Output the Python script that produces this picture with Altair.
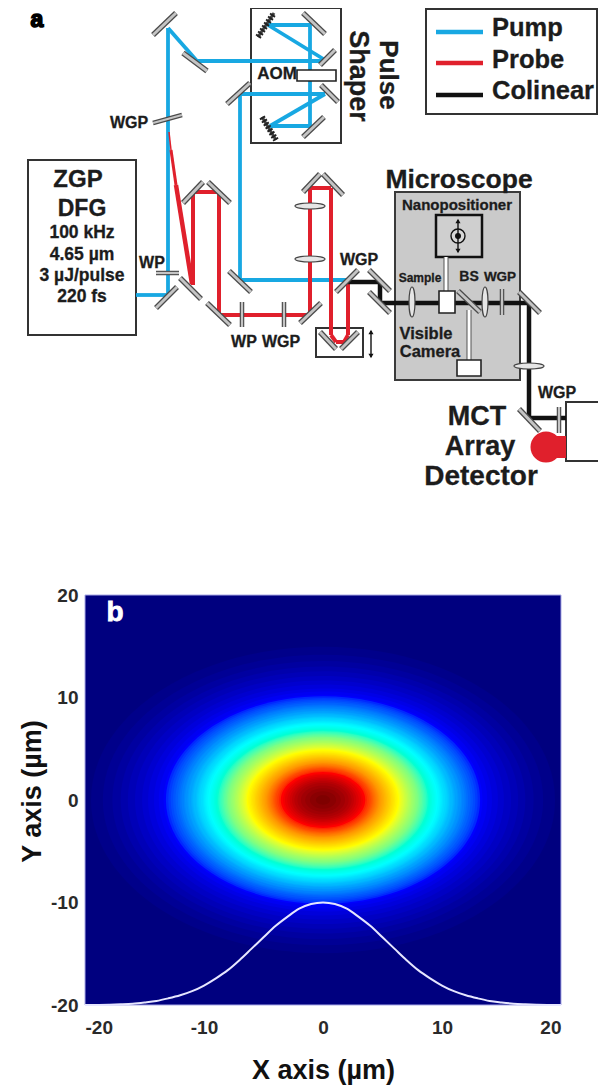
import altair as alt
import pandas as pd

FONT = "Liberation Sans"
BLUE = "#18a8e2"
RED = "#e0202c"
BLACK = "#111111"
DARK = "#1c1c1c"

# ---------- panel b values ----------
level_value = [round(i / 100, 2) for i in range(1, 101)]
level_semi_x_um = [
    19.5, 18.5, 17.7, 17.0, 16.4, 15.8, 15.2, 14.7, 14.2, 13.8,
    13.4, 13.2, 13.0, 12.8, 12.6, 12.4, 12.2, 12.05, 11.9, 11.7,
    11.6, 11.4, 11.3, 11.1, 11.0, 10.9, 10.7, 10.6, 10.5, 10.4,
    10.25, 10.1, 10.0, 9.9, 9.8, 9.65, 9.55, 9.42, 9.3, 9.17,
    9.05, 8.92, 8.8, 8.68, 8.56, 8.44, 8.33, 8.21, 8.09, 7.98,
    7.86, 7.75, 7.63, 7.52, 7.41, 7.29, 7.18, 7.07, 6.96, 6.85,
    6.73, 6.62, 6.51, 6.4, 6.29, 6.18, 6.06, 5.95, 5.84, 5.72,
    5.61, 5.49, 5.37, 5.26, 5.14, 5.02, 4.9, 4.78, 4.69, 4.6,
    4.5, 4.4, 4.3, 4.2, 4.1, 4.0, 3.85, 3.7, 3.55, 3.35,
    3.2, 3.0, 2.8, 2.6, 2.4, 2.15, 1.85, 1.5, 1.1, 0.6,
]
curve_x = [-20, -18, -17, -16, -15, -14, -13, -12, -11, -10, -9, -8, -7, -6, -5, -4, -3, -2, -1, 0,
           1, 2, 3, 4, 5, 6, 7, 8, 9, 10, 11, 12, 13, 14, 15, 16, 17, 18, 20]
curve_y = [-20, -19.97, -19.93, -19.87, -19.75, -19.6, -19.35, -19.05, -18.65, -18.1, -17.4, -16.6,
           -15.6, -14.5, -13.4, -12.3, -11.4, -10.6, -10.15, -10.0,
           -10.15, -10.6, -11.4, -12.3, -13.4, -14.5, -15.6, -16.6, -17.4, -18.1, -18.65, -19.05,
           -19.35, -19.6, -19.75, -19.87, -19.93, -19.97, -20]
tick_values = [-20, -10, 0, 10, 20]
jet_stops = [0, 0.11, 0.36, 0.5, 0.64, 0.89, 1]
jet_colors = ["#00007f", "#0000ff", "#00ffff", "#80ff80", "#ffff00", "#ff0000", "#7f0000"]

# ---------- panel a values (schematic positions in picture pixels) ----------
blue_beam = [(136, 295, 168, 295), (168, 295, 168, 28), (168, 28, 197, 61), (197, 61, 325, 61),
             (268, 25, 325, 60), (268, 25, 311, 25), (310, 25, 310, 126), (311, 126, 270, 126),
             (270, 126, 325, 94), (325, 94, 240, 94), (240, 94, 240, 280), (240, 280, 346, 280)]
red_beam = [(193, 285, 193, 192), (193, 192, 219, 192), (219, 192, 219, 315), (219, 315, 310, 315),
            (310, 315, 310, 188), (310, 188, 331, 188), (331, 188, 331, 335), (331, 335, 336, 342),
            (336, 342, 344, 342), (344, 342, 348, 335), (348, 335, 348, 282)]
red_wedge = [(169, 132, 171, 150, 1.5), (171, 150, 176, 185, 3), (176, 185, 192, 284, 4.5)]
black_beam = [(348, 282, 380, 282), (380, 282, 380, 303), (380, 303, 529, 303),
              (529, 303, 529, 418), (529, 418, 566, 418)]
mirrors = [(153, 35, 176, 13), (183, 53, 207, 71), (227, 104, 250, 83), (303, 13, 325, 34),
           (320, 65, 335, 50), (321, 85, 338, 102), (303, 137, 324, 117), (156, 308, 177, 287),
           (180, 278, 201, 299), (207, 303, 230, 325), (229, 271, 251, 292), (183, 203, 203, 182),
           (208, 182, 230, 203), (303, 192, 320, 174), (323, 174, 343, 195), (300, 323, 321, 303),
           (336, 292, 358, 270), (369, 270, 390, 291), (369, 292, 390, 313), (458, 291, 480, 312),
           (519, 292, 540, 313), (519, 409, 540, 431), (320, 332, 336, 349), (341, 349, 358, 332)]
plates = [(153, 123, 182, 115), (156, 273, 179, 273), (242, 302, 242, 327), (284, 302, 284, 327),
          (502, 289, 502, 315), (559, 407, 559, 433)]
gratings = [(258, 37, 274, 13), (262, 117, 276, 140)]
outlined_boxes = [(251, 8, 341, 143), (28, 160, 136, 335), (426, 9, 597, 114),
                  (316, 328, 363, 357), (566, 402, 612, 461)]
gray_box = [(395, 192, 520, 380)]
nano_box = [(436, 215, 482, 257)]
white_boxes = [(439, 291, 455, 313), (457, 360, 481, 376), (297, 70, 336, 81)]
stems = [(446, 257, 446, 291), (469, 310, 469, 360)]
lens_h = [(310, 206), (310, 259), (529, 366)]
lens_v = [(412, 302), (485, 302)]
legend_lines = [(436, 32, 483, 32, BLUE), (436, 63, 483, 63, RED), (436, 95, 483, 95, BLACK)]
arrows = [(458, 220, 458, 252), (371, 331, 371, 357)]
arrow_heads_up = [(458, 221), (371, 332)]
arrow_heads_down = [(458, 251), (371, 356)]
blob_circle = [(546, 447)]
blob_neck = [(555, 436, 566, 458)]
target_ring = [(458, 236)]

labels = [
    (129, 123, "WGP", 16, 0), (277, 74, "AOM", 17, 0),
    (78, 180, "ZGP", 24, 0), (82, 209, "DFG", 23, 0), (82, 233, "100 kHz", 17.5, 0),
    (82, 255, "4.65 µm", 17.5, 0), (82, 276, "3 µJ/pulse", 17.5, 0), (82, 297, "220 fs", 17.5, 0),
    (152, 263, "WP", 16, 0), (244, 342, "WP", 16, 0), (281, 342, "WGP", 16, 0),
    (388, 75, "Pulse", 26, 90), (358, 76, "Shaper", 27, 90),
    (459, 180, "Microscope", 26.5, 0), (457, 205, "Nanopositioner", 15, 0),
    (420, 278, "Sample", 12, 0), (469, 277, "BS", 14, 0), (500, 277, "WGP", 13.5, 0),
    (359, 260, "WGP", 16, 0), (426, 334, "Visible", 16.5, 0), (430, 352, "Camera", 16.5, 0),
    (557, 393, "WGP", 16, 0), (477, 417, "MCT", 27, 0), (480, 447, "Array", 27, 0),
    (481, 477, "Detector", 28, 0),
]
legend_labels = [(492, 28, "Pump"), (492, 60, "Probe"), (492, 91, "Colinear")]

# ---------- scales ----------
px_x = alt.Scale(domain=[85, 561], nice=False, zero=False)
px_y = alt.Scale(domain=[1005, 595], nice=False, zero=False)
um = alt.Scale(domain=[-20, 20], nice=False, zero=False)


def X(f="x"):
    return alt.X(f"{f}:Q", scale=px_x, axis=None)


def Y(f="y"):
    return alt.Y(f"{f}:Q", scale=px_y, axis=None)


def segs(rows, color, width, **kw):
    df = pd.DataFrame([r[:4] for r in rows], columns=["x", "y", "x2", "y2"])
    return alt.Chart(df).mark_rule(color=color, strokeWidth=width, **kw).encode(
        x=X(), y=Y(), x2="x2:Q", y2="y2:Q")


def boxes(rows, fill, stroke, width):
    df = pd.DataFrame(rows, columns=["x", "y", "x2", "y2"])
    return alt.Chart(df).mark_rect(fill=fill, stroke=stroke, strokeWidth=width, opacity=1).encode(
        x=X(), y=Y(), x2="x2:Q", y2="y2:Q")


def dots(rows, shape, size, fill, stroke=None, width=0):
    df = pd.DataFrame(rows, columns=["x", "y"])
    kw = {"stroke": stroke} if stroke else {}
    return alt.Chart(df).mark_point(shape=shape, size=size, filled=True, fill=fill, opacity=1,
                                    strokeWidth=width, **kw).encode(x=X(), y=Y())


# ---------- panel b ----------
frame = pd.DataFrame({"x": [-20], "x2": [20], "y": [-20], "y2": [20]})
heat_bg = alt.Chart(frame).mark_rect(fill="#00007f", stroke="#a9a9e6", strokeWidth=1, opacity=1).encode(
    x=alt.X("x:Q", scale=um, title="X axis (µm)",
            axis=alt.Axis(values=tick_values, labelExpr="'' + datum.value", tickSize=0, domain=False, grid=False,
                          labelFont=FONT, labelFontWeight="bold", labelFontSize=19, labelColor="#2a2a2a",
                          labelPadding=13, titleFont=FONT, titleFontWeight="bold", titleFontSize=27,
                          titleColor=BLACK, titlePadding=20)),
    y=alt.Y("y:Q", scale=um, title="Y axis (µm)",
            axis=alt.Axis(values=tick_values, labelExpr="'' + datum.value", tickSize=0, domain=False, grid=False,
                          labelFont=FONT, labelFontWeight="bold", labelFontSize=19, labelColor="#2a2a2a",
                          labelPadding=7, titleFont=FONT, titleFontWeight="bold", titleFontSize=27,
                          titleColor=BLACK, titlePadding=4, titleY=196)),
    x2="x2:Q", y2="y2:Q")

PX_PER_UM = 476 / 40
levels = pd.DataFrame({
    "v": level_value, "s": level_semi_x_um, "cx": [0] * len(level_value), "cy": [0] * len(level_value),
})
levels["size"] = 4 * (levels["s"] * PX_PER_UM) ** 2
ELLIPSE = "M-1,0A1,0.66,0,1,0,1,0A1,0.66,0,1,0,-1,0Z"
heat = alt.Chart(levels).mark_point(shape=ELLIPSE, filled=True, opacity=1, strokeWidth=0).encode(
    x=alt.X("cx:Q", scale=um, axis=None), y=alt.Y("cy:Q", scale=um, axis=None),
    size=alt.Size("size:Q", scale=None, legend=None),
    color=alt.Color("v:Q", legend=None, scale=alt.Scale(domain=jet_stops, range=jet_colors)),
    order=alt.Order("v:Q"))

curve = alt.Chart(pd.DataFrame({"x": curve_x, "y": curve_y})).mark_line(
    color="#e6e6ff", strokeWidth=2, interpolate="monotone").encode(
    x=alt.X("x:Q", scale=um, axis=None), y=alt.Y("y:Q", scale=um, axis=None))

b_label = alt.Chart(pd.DataFrame({"x": [115], "y": [613], "t": ["b"]})).mark_text(
    font=FONT, fontWeight="bold", fontSize=28, color="white", stroke="white", strokeWidth=0.8,
    align="center", baseline="middle").encode(x=X(), y=Y(), text="t:N")

a_label = alt.Chart(pd.DataFrame({"x": [37], "y": [27], "t": ["a"]})).mark_text(
    font=FONT, fontWeight="bold", fontSize=23, color="black", stroke="black", strokeWidth=1.6,
    align="center", baseline="alphabetic").encode(x=X(), y=Y(), text="t:N")

# ---------- panel a ----------
wedge_layers = [segs([r], RED, r[4]) for r in red_wedge]

lab = pd.DataFrame(labels, columns=["x", "y", "t", "fs", "ang"])
lab_layers = []
for (fs, ang), part in lab.groupby(["fs", "ang"]):
    lab_layers.append(alt.Chart(part).mark_text(
        font=FONT, fontWeight="bold", fontSize=float(fs), angle=float(ang), color=DARK,
        align="center", baseline="middle", stroke=DARK, strokeWidth=0.3).encode(x=X(), y=Y(), text="t:N"))

legend_text = alt.Chart(pd.DataFrame(legend_labels, columns=["x", "y", "t"])).mark_text(
    font=FONT, fontWeight="bold", fontSize=25.5, color=DARK, align="left", baseline="middle",
    stroke=DARK, strokeWidth=0.3).encode(x=X(), y=Y(), text="t:N")

leg_lines = [segs([r], r[4], 4.5) for r in legend_lines]

layers = [
    heat_bg, heat, curve, b_label,
    boxes(outlined_boxes, "white", "#333333", 2),
    boxes(gray_box, "#cacaca", "#3a3a3a", 2),
    boxes(nano_box, "#cfcfcf", "#111111", 2.5),
    segs(stems, "#555555", 5), segs(stems, "white", 3),
    segs(blue_beam, BLUE, 3.8),
    *wedge_layers,
    segs(red_beam, RED, 4),
    segs(black_beam, BLACK, 4.5),
    boxes(blob_neck, RED, RED, 0),
    dots(blob_circle, "circle", 961, RED),
    boxes(white_boxes, "white", "#222222", 1.6),
    segs(mirrors, "#4a4a4a", 5.5), segs(mirrors, "#c4c4c4", 3),
    segs(plates, "#4a4a4a", 4.5), segs(plates, "#c4c4c4", 2.2),
    segs(gratings, "#444444", 3), segs(gratings, "#222222", 6, strokeDash=[2, 1.6]),
    dots(lens_h, "M-1,0A1,0.2,0,1,0,1,0A1,0.2,0,1,0,-1,0Z", 900, "#e6e6e6", "#444444", 1.2),
    dots(lens_v, "M0,-1A0.2,1,0,1,0,0,1A0.2,1,0,1,0,0,-1Z", 900, "#e6e6e6", "#444444", 1.2),
    dots(target_ring, "circle", 196, "#d8d8d8", "#111111", 1.4),
    dots(target_ring, "circle", 36, "#111111"),
    segs(arrows, "#111111", 1.4),
    dots(arrow_heads_up, "triangle-up", 26, "#111111"),
    dots(arrow_heads_down, "triangle-down", 26, "#111111"),
    *leg_lines, legend_text, a_label, *lab_layers,
]

chart = alt.layer(*layers).resolve_scale(x="independent", y="independent", color="independent", size="independent").properties(
    width=476, height=410,
    padding={"left": 77, "top": 587, "right": 37, "bottom": 83},
    autosize=alt.AutoSizeParams(type="none"),
    background="white",
).configure_view(stroke=None)

chart.save("out.html", embed_options={"renderer": "svg", "actions": False})
